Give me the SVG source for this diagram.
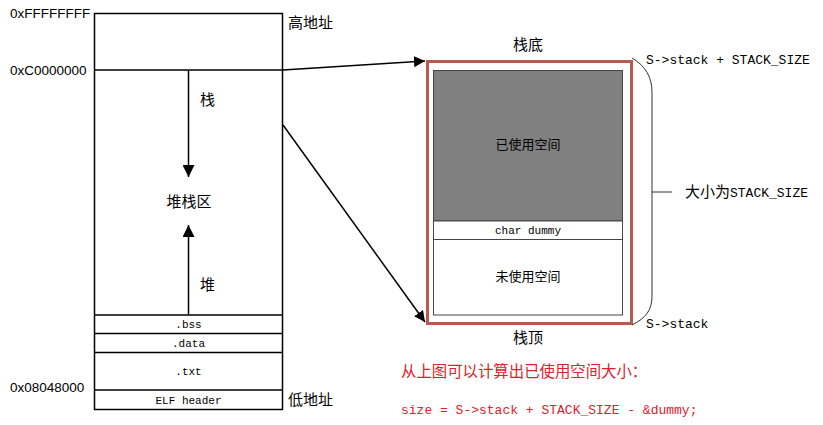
<svg xmlns="http://www.w3.org/2000/svg" width="823" height="425" viewBox="0 0 823 425">
<style>
.hex{font-family:"Liberation Sans",Arial,sans-serif;font-size:13.5px;fill:#000}
.cn{font-family:"Noto Sans CJK SC",sans-serif;font-size:15px;fill:#000}
.cns{font-family:"Noto Sans CJK SC",sans-serif;font-size:13px;fill:#000}
.mono{font-family:"Liberation Mono",monospace;font-size:11px;fill:#000}
.mono13{font-family:"Liberation Mono",monospace;font-size:13px;fill:#000}
.red{fill:#e0202a}
.ln{stroke:#000;stroke-width:1.5;fill:none}
.thin{stroke:#333;stroke-width:1;fill:none}
</style>
<defs>
<marker id="ah" viewBox="0 0 10 10" refX="10" refY="5" markerWidth="11" markerHeight="11" markerUnits="userSpaceOnUse" orient="auto">
<path d="M0,0 L10,5 L0,10 Z" fill="#000"/>
</marker>
<marker id="ah2" viewBox="0 0 10 10" refX="10" refY="5" markerWidth="12" markerHeight="12" markerUnits="userSpaceOnUse" orient="auto">
<path d="M0,0 L10,5 L0,10 Z" fill="#000"/>
</marker>
</defs>

<g id="memory">
<rect x="94.5" y="13.5" width="188" height="396" class="ln" fill="#fff"/>
<line x1="94.5" y1="70" x2="282.5" y2="70" class="ln"/>
<line x1="94.5" y1="315" x2="282.5" y2="315" class="ln"/>
<line x1="94.5" y1="333.5" x2="282.5" y2="333.5" class="ln"/>
<line x1="94.5" y1="352.5" x2="282.5" y2="352.5" class="ln"/>
<line x1="94.5" y1="390" x2="282.5" y2="390" class="ln"/>
<text class="mono" x="188.5" y="328" text-anchor="middle">.bss</text>
<text class="mono" x="188.5" y="347" text-anchor="middle">.data</text>
<text class="mono" x="188.5" y="375" text-anchor="middle">.txt</text>
<text class="mono" x="188.5" y="404" text-anchor="middle">ELF header</text>
<text class="cn" x="189" y="207" text-anchor="middle">堆栈区</text>
<text class="cn" x="200" y="105">栈</text>
<text class="cn" x="200" y="290">堆</text>
</g>

<g id="labels">
<text class="hex" x="10" y="18">0xFFFFFFFF</text>
<text class="hex" x="10" y="75">0xC0000000</text>
<text class="hex" x="10" y="392">0x08048000</text>
<text class="cn" x="288" y="28">高地址</text>
<text class="cn" x="288" y="405">低地址</text>
</g>

<g id="stack">
<rect x="427.5" y="61.5" width="204" height="262" fill="#fff" stroke="#b85a52" stroke-width="3"/>
<rect x="433.5" y="70.5" width="189" height="150.5" fill="#808080" stroke="#444" stroke-width="1"/>
<rect x="433.5" y="221" width="189" height="18.5" fill="#fff" stroke="#444" stroke-width="1"/>
<rect x="433.5" y="239.5" width="189" height="75.5" fill="#fff" stroke="#444" stroke-width="1"/>
<text class="cns" x="528" y="149" text-anchor="middle">已使用空间</text>
<text class="mono" x="528" y="234" text-anchor="middle">char dummy</text>
<text class="cns" x="528" y="281" text-anchor="middle">未使用空间</text>
<text class="cn" x="528" y="50" text-anchor="middle">栈底</text>
<text class="cn" x="528" y="343" text-anchor="middle">栈顶</text>
</g>

<g id="brace">
<path d="M632,58 C646,66 652,78 652,92 L652,296 C652,310 646,318 632,325" class="thin"/>
<line x1="652" y1="192" x2="672" y2="192" class="thin"/>
<text class="mono13" x="646" y="64">S-&gt;stack + STACK_SIZE</text>
<text class="mono13" x="646" y="328">S-&gt;stack</text>
<text x="685" y="197"><tspan class="cn">大小为</tspan><tspan class="mono13">STACK_SIZE</tspan></text>
</g>

<g id="note">
<text class="cn red" x="401" y="377" style="font-size:15.4px">从上图可以计算出已使用空间大小：</text>
<text class="mono13 red" x="401" y="414">size = S-&gt;stack + STACK_SIZE - &amp;dummy;</text>
</g>

<g id="connectors">
<line x1="188.5" y1="70" x2="188.5" y2="177" class="ln" marker-end="url(#ah2)"/>
<line x1="188.5" y1="315" x2="188.5" y2="225" class="ln" marker-end="url(#ah2)"/>
<line x1="283" y1="70" x2="425" y2="61" class="ln" marker-end="url(#ah)"/>
<line x1="283" y1="125" x2="425" y2="322" class="ln" marker-end="url(#ah)"/>
</g>
</svg>
